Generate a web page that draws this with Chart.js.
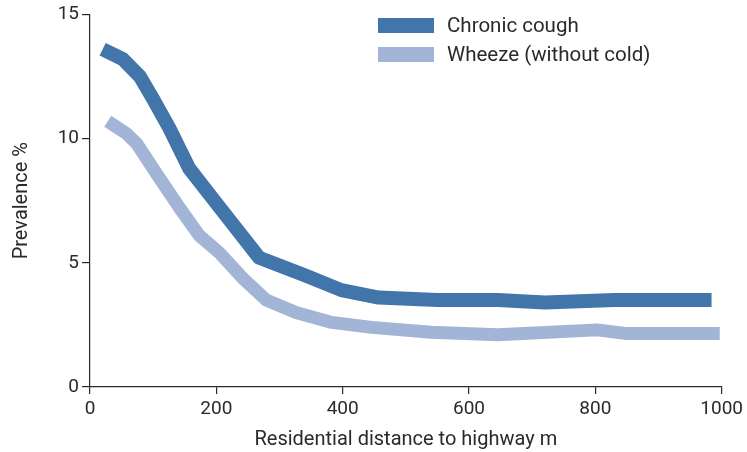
<!DOCTYPE html>
<html>
<head>
<meta charset="utf-8">
<script src="https://cdn.jsdelivr.net/npm/chart.js@4.4.0/dist/chart.umd.min.js"></script>
<style>
    html, body { margin: 0; padding: 0; background: #fff; }
    #wrap { width: 747px; height: 452px; }
</style>
</head>
<body>
<div id="wrap"><canvas id="ourChart"></canvas></div>
<script>
const coughDist = [20, 52, 79, 102, 126, 157, 197, 268, 340, 398, 457, 550, 646, 720, 830, 984];
const coughPrev = [13.6, 13.2, 12.5, 11.5, 10.4, 8.8, 7.5, 5.2, 4.5, 3.9, 3.6, 3.5, 3.5, 3.4, 3.5, 3.5];

const wheezeDist = [28, 58, 74, 105, 142, 173, 205, 241, 279, 326, 383, 446, 540, 646, 803, 850, 997];
const wheezePrev = [10.7, 10.2, 9.8, 8.6, 7.2, 6.1, 5.4, 4.4, 3.5, 3.0, 2.6, 2.4, 2.2, 2.1, 2.3, 2.15, 2.15];

const seriesNames = ['Chronic cough', 'Wheeze (without cold)'];
const xTicks = [0, 200, 400, 600, 800, 1000];
const yTicks = [0, 5, 10, 15];

const dark = '#4275aa';
const light = '#a3b5d6';
const ink = '#2a2a2a';
const fontFam = 'Roboto, "DejaVu Sans", sans-serif';

const toPoints = (xs, ys) => xs.map((x, i) => ({ x: x, y: ys[i] }));

// legend drawn inside the plot, top right, stacked
const boxLegend = {
    id: 'boxLegend',
    afterDraw(chart) {
        const ctx = chart.ctx;
        ctx.save();
        ctx.font = '20.5px ' + fontFam;
        ctx.textBaseline = 'middle';
        chart.data.datasets.forEach((ds, i) => {
            const y = 25.5 + i * 29;
            ctx.fillStyle = ds.borderColor;
            ctx.fillRect(378, y - 7.5, 56, 15);
            ctx.fillStyle = ink;
            ctx.fillText(ds.label, 447, y + 1);
        });
        ctx.restore();
    }
};

new Chart(document.getElementById('ourChart'), {
    type: 'line',
    data: {
        datasets: [
            {
                label: seriesNames[0],
                data: toPoints(coughDist, coughPrev),
                borderColor: dark,
                borderWidth: 14,
                pointRadius: 0,
                tension: 0,
                borderJoinStyle: 'round',
                borderCapStyle: 'butt',
            },
            {
                label: seriesNames[1],
                data: toPoints(wheezeDist, wheezePrev),
                borderColor: light,
                borderWidth: 13,
                pointRadius: 0,
                tension: 0,
                borderJoinStyle: 'round',
                borderCapStyle: 'butt',
            },
        ]
    },
    options: {
        responsive: true,
        maintainAspectRatio: false,
        animation: false,
        layout: {
            padding: { top: 12, right: 22, left: 0, bottom: 0 }
        },
        plugins: {
            legend: { display: false },
            tooltip: { enabled: false },
        },
        scales: {
            x: {
                type: 'linear',
                min: 0,
                max: 1000,
                afterBuildTicks: (s) => { s.ticks = xTicks.map(v => ({ value: v })); },
                afterFit: (s) => { s.height = 452 - 387; },
                grid: { drawOnChartArea: false, tickLength: 7, color: ink, lineWidth: 1.2 },
                border: { color: ink, width: 1.2 },
                ticks: {
                    color: ink,
                    font: { size: 19, family: fontFam },
                    padding: 4,
                    callback: (v) => String(v)
                },
                title: {
                    display: true,
                    text: 'Residential distance to highway m',
                    color: ink,
                    font: { size: 20, family: fontFam },
                    padding: { top: 4, bottom: 0 }
                }
            },
            y: {
                min: 0,
                max: 15,
                afterBuildTicks: (s) => { s.ticks = yTicks.map(v => ({ value: v })); },
                afterFit: (s) => { s.width = 90; },
                grid: { drawOnChartArea: false, tickLength: 8, color: ink, lineWidth: 1.2 },
                border: { color: ink, width: 1.2 },
                ticks: { color: ink, font: { size: 19, family: fontFam }, padding: 3 },
                title: {
                    display: true,
                    text: 'Prevalence %',
                    color: ink,
                    font: { size: 20, family: fontFam },
                    padding: { top: 10, bottom: 0 }
                }
            }
        }
    },
    plugins: [boxLegend]
});
</script>
</body>
</html>
